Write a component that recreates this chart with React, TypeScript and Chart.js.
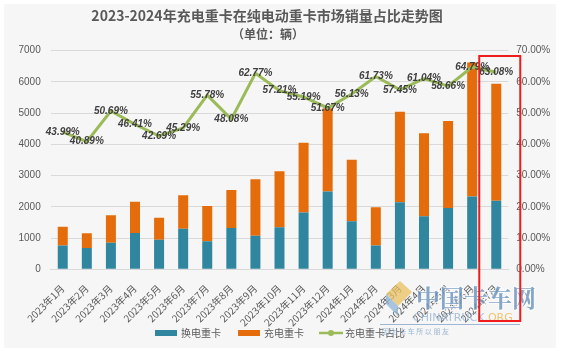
import React, { useEffect, useRef } from "react";
import { Chart, registerables } from "chart.js";

Chart.register(...registerables);

const categories = [
  "2023年1月", "2023年2月", "2023年3月", "2023年4月", "2023年5月", "2023年6月",
  "2023年7月", "2023年8月", "2023年9月", "2023年10月", "2023年11月", "2023年12月",
  "2024年1月", "2024年2月", "2024年3月", "2024年4月", "2024年5月", "2024年6月", "2024年7月",
];
const swapTrucks = [765, 682, 853, 1161, 948, 1296, 897, 1319, 1073, 1343, 1817, 2491, 1540, 760, 2148, 1696, 1963, 2331, 2195];
const chargeTrucks = [601, 471, 876, 1006, 706, 1073, 1131, 1221, 1809, 1795, 2238, 2664, 1971, 1225, 2900, 2658, 2786, 4289, 3749];
const chargeShare = [43.99, 40.89, 50.69, 46.41, 42.69, 45.29, 55.78, 48.08, 62.77, 57.21, 55.19, 51.67, 56.13, 61.73, 57.45, 61.04, 58.66, 64.79, 63.08];
const seriesNames = ["换电重卡", "充电重卡", "充电重卡占比"];
const title = "2023-2024年充电重卡在纯电动重卡市场销量占比走势图";
const subtitle = "（单位：辆）";
const watermark = ["中国卡车网", "CHINATRUCK.", "ORG", "因 为 卡 车 所 以 朋 友"];

const BLUE = "#31869f";
const ORANGE = "#e46c0a";
const GREEN = "#9bbb59";
const TEXT = "#595959";

const decorPlugin = {
  id: "decor",
  beforeDraw(chart: any) {
    const { ctx } = chart;
    ctx.save();
    ctx.fillStyle = "#ffffff";
    ctx.fillRect(0, 0, chart.width, chart.height);
    ctx.fillStyle = "#f6f6f6";
    ctx.fillRect(4, 4, 552, 344);
    ctx.restore();
  },
  afterDatasetsDraw(chart: any) {
    const { ctx } = chart;
    const meta = chart.getDatasetMeta(2);
    ctx.save();
    ctx.font = 'italic bold 10px "Liberation Sans"';
    ctx.fillStyle = "#404040";
    ctx.textAlign = "center";
    ctx.textBaseline = "middle";
    meta.data.forEach((pt: any, i: number) => {
      ctx.fillText(chargeShare[i].toFixed(2) + "%", pt.x, pt.y);
    });
    ctx.restore();
  },
  afterDraw(chart: any) {
    const { ctx } = chart;
    ctx.save();
    // title
    ctx.fillStyle = TEXT;
    ctx.textAlign = "center";
    ctx.textBaseline = "middle";
    ctx.font = 'bold 14px "Noto Sans CJK SC"';
    ctx.fillText(title, 267, 16);
    ctx.font = 'bold 12px "Noto Sans CJK SC"';
    ctx.fillText(subtitle, 268, 34);
    // legend
    const ly = 333;
    ctx.font = '10px "Noto Sans CJK SC"';
    ctx.textAlign = "left";
    ctx.fillStyle = BLUE;
    ctx.fillRect(155, ly - 3, 22, 6);
    ctx.fillStyle = TEXT;
    ctx.fillText(seriesNames[0], 181, ly);
    ctx.fillStyle = ORANGE;
    ctx.fillRect(238, ly - 3, 22, 6);
    ctx.fillStyle = TEXT;
    ctx.fillText(seriesNames[1], 264, ly);
    ctx.strokeStyle = GREEN;
    ctx.lineWidth = 2.5;
    ctx.beginPath();
    ctx.moveTo(319, ly);
    ctx.lineTo(343, ly);
    ctx.stroke();
    ctx.fillStyle = GREEN;
    ctx.beginPath();
    ctx.arc(331, ly, 3, 0, Math.PI * 2);
    ctx.fill();
    ctx.fillStyle = TEXT;
    ctx.fillText(seriesNames[2], 345, ly);
    // watermark
    ctx.globalAlpha = 0.75;
    ctx.textAlign = "left";
    ctx.fillStyle = "#e8c060";
    ctx.beginPath();
    ctx.moveTo(386, 294);
    ctx.lineTo(400, 281);
    ctx.lineTo(412, 292);
    ctx.lineTo(398, 306);
    ctx.closePath();
    ctx.fill();
    ctx.fillStyle = "#8fb3d6";
    ctx.beginPath();
    ctx.moveTo(386, 294);
    ctx.lineTo(398, 306);
    ctx.lineTo(398, 316);
    ctx.lineTo(386, 304);
    ctx.closePath();
    ctx.fill();
    ctx.strokeStyle = "#ffffff";
    ctx.lineWidth = 2;
    ctx.font = 'bold 24px "Noto Serif CJK SC", "Noto Sans CJK SC"';
    ctx.strokeText(watermark[0], 416, 298);
    ctx.fillStyle = "#5f8ab8";
    ctx.fillText(watermark[0], 416, 298);
    ctx.font = '11px "DejaVu Sans"';
    ctx.fillStyle = "#8fb0d0";
    ctx.fillText(watermark[1], 413, 318);
    const w1 = ctx.measureText(watermark[1]).width;
    ctx.fillStyle = "#f0b040";
    ctx.fillText(watermark[2], 413 + w1, 318);
    ctx.fillStyle = "#7fa2c6";
    ctx.fillRect(380, 324, 140, 1);
    ctx.font = '7px "Noto Sans CJK SC"';
    ctx.fillText(watermark[3], 382, 331);
    ctx.globalAlpha = 1;
    // red highlight box around last month
    const xs = chart.scales.x;
    const px = xs.getPixelForValue(categories.length - 1);
    ctx.strokeStyle = "#ee1c1c";
    ctx.lineWidth = 2;
    ctx.strokeRect(px - 17, 56, 41, 265);
    ctx.restore();
  },
};

export default function App() {
  const ref = useRef<HTMLCanvasElement | null>(null);
  useEffect(() => {
    if (!ref.current) return;
    const chart = new Chart(ref.current, {
      type: "bar",
      data: {
        labels: categories,
        datasets: [
          {
            type: "bar",
            label: seriesNames[0],
            data: swapTrucks,
            backgroundColor: BLUE,
            yAxisID: "y",
            order: 1,
            barPercentage: 0.415,
            categoryPercentage: 1,
          },
          {
            type: "bar",
            label: seriesNames[1],
            data: chargeTrucks,
            backgroundColor: ORANGE,
            yAxisID: "y",
            order: 2,
            barPercentage: 0.415,
            categoryPercentage: 1,
          },
          {
            type: "line",
            label: seriesNames[2],
            data: chargeShare,
            borderColor: GREEN,
            backgroundColor: GREEN,
            borderWidth: 3,
            pointRadius: 0,
            tension: 0,
            yAxisID: "y1",
            order: 0,
          } as any,
        ],
      },
      options: {
        responsive: false,
        animation: false,
        layout: { padding: { top: 50.7, left: 0, right: 0, bottom: 0 } },
        plugins: {
          legend: { display: false },
          title: { display: false },
          tooltip: { enabled: false },
        },
        scales: {
          x: {
            stacked: true,
            grid: { display: false, drawTicks: false },
            border: { display: true, color: "#d9d9d9" },
            ticks: {
              color: TEXT,
              font: { size: 10, family: '"Noto Sans CJK SC"' },
              minRotation: 45,
              maxRotation: 45,
              autoSkip: false,
              padding: 13,
            },
            afterFit(scale: any) {
              scale.height = 355 - 269.3;
            },
          },
          y: {
            stacked: true,
            position: "left",
            min: 0,
            max: 7000,
            grid: { color: "#d9d9d9", drawTicks: false },
            border: { display: false },
            ticks: {
              stepSize: 1000,
              color: TEXT,
              font: { size: 10, family: '"Liberation Sans"' },
              padding: 10,
              callback: (v: any) => String(v),
            },
            afterFit(scale: any) {
              scale.width = 50.7;
            },
          },
          y1: {
            position: "right",
            min: 0,
            max: 70,
            grid: { display: false, drawTicks: false },
            border: { display: false },
            ticks: {
              stepSize: 10,
              color: TEXT,
              font: { size: 10, family: '"Liberation Sans"' },
              padding: 8,
              callback: (v: any) => Number(v).toFixed(2) + "%",
            },
            afterFit(scale: any) {
              scale.width = 563 - 508.3;
            },
          },
        },
      },
      plugins: [decorPlugin],
    });
    return () => chart.destroy();
  }, []);
  return (
    <div style={{ position: "fixed", left: 0, top: 0, width: 563, height: 355 }}>
      <canvas ref={ref} width={563} height={355} style={{ display: "block" }} />
    </div>
  );
}
